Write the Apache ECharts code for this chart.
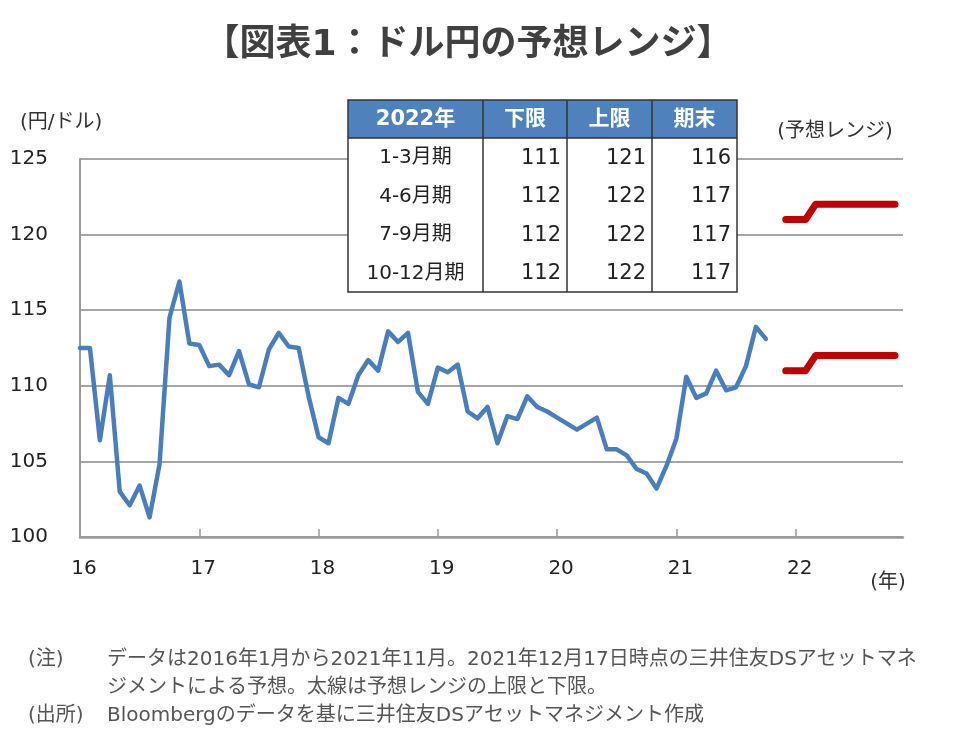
<!DOCTYPE html>
<html><head><meta charset="utf-8">
<script src="https://cdn.jsdelivr.net/npm/echarts@6/dist/echarts.min.js"></script>
<style>html,body{margin:0;padding:0;background:#fff}#c{width:975px;height:740px}</style>
</head><body><div id="c"></div>
<script>
// Monthly USD/JPY series, first point plotted at the "16" tick, one point per month
const firstX = 16;
const usdjpy = [
  112.5, 112.5, 106.4, 110.7, 103.0, 102.1, 103.4, 101.3, 104.8, 114.5, 116.9,
  112.8, 112.7, 111.3, 111.4, 110.7, 112.3, 110.1, 109.9, 112.4, 113.5, 112.6, 112.5,
  109.3, 106.6, 106.2, 109.2, 108.8, 110.7, 111.7, 111.0, 113.6, 112.9, 113.5, 109.6,
  108.8, 111.2, 110.9, 111.4, 108.3, 107.85, 108.6, 106.2, 108.0, 107.8, 109.3, 108.6,
  108.3, 107.9, 107.5, 107.1, 107.5, 107.9, 105.8, 105.8, 105.4, 104.5, 104.2, 103.2,
  104.7, 106.5, 110.6, 109.2, 109.5, 111.0, 109.7, 109.9, 111.3, 113.9, 113.1
];
const xTicks = [16, 17, 18, 19, 20, 21, 22];
const xLabels = ['16', '17', '18', '19', '20', '21', '22'];
const yMin = 100, yMax = 125, yStep = 5;

// 2022 forecast table
const tableHead = ['2022年', '下限', '上限', '期末'];
const quarters = ['1-3月期', '4-6月期', '7-9月期', '10-12月期'];
const qLower = [111, 112, 112, 112];
const qUpper = [121, 122, 122, 122];
const qEnd = [116, 117, 117, 117];
// forecast months in 2022 (plotted on the same monthly grid as the series)
const fcMonthIdx = [71, 72, 73, 74, 75, 76, 77, 78, 79, 80, 81, 82];
const fcQuarter = [0, 0, 0, 1, 1, 1, 2, 2, 2, 3, 3, 3];

const lineData = usdjpy.map((v, i) => [firstX + i / 12, v]);
const lowerData = fcMonthIdx.map((m, k) => [firstX + m / 12, qLower[fcQuarter[k]]]);
const upperData = fcMonthIdx.map((m, k) => [firstX + m / 12, qUpper[fcQuarter[k]]]);

const FONT = '"DejaVu Sans", "Noto Sans CJK JP", sans-serif';
const chart = echarts.init(document.getElementById('c'), null, {renderer: 'canvas'});

// table geometry
const tX = [348, 483, 567, 652, 737];
const tTop = 100, hdrH = 38, rowH = 38.5;
const tBottom = tTop + hdrH + rowH * 4;
const gfx = [];
gfx.push({type: 'rect', z: 100, shape: {x: tX[0], y: tTop, width: tX[4] - tX[0], height: tBottom - tTop}, style: {fill: '#fff', stroke: null}});
gfx.push({type: 'rect', z: 101, shape: {x: tX[0], y: tTop, width: tX[4] - tX[0], height: hdrH}, style: {fill: '#4f81bd', stroke: null}});
for (let i = 1; i < 4; i++) {
  gfx.push({type: 'line', z: 102, shape: {x1: tX[i], y1: tTop, x2: tX[i], y2: tBottom}, style: {stroke: '#333', lineWidth: 1.5}});
}
gfx.push({type: 'line', z: 102, shape: {x1: tX[0], y1: tTop + hdrH, x2: tX[4], y2: tTop + hdrH}, style: {stroke: '#333', lineWidth: 1.5}});
gfx.push({type: 'rect', z: 103, shape: {x: tX[0], y: tTop, width: tX[4] - tX[0], height: tBottom - tTop}, style: {fill: null, stroke: '#333', lineWidth: 1.5}});
tableHead.forEach((h, i) => {
  gfx.push({type: 'text', z: 104, x: (tX[i] + tX[i + 1]) / 2, y: tTop + hdrH / 2 + 1,
    style: {text: h, fill: '#fff', font: 'bold 21px ' + FONT, align: 'center', verticalAlign: 'middle'}});
});
quarters.forEach((q, r) => {
  const cy = tTop + hdrH + rowH * r + rowH / 2 + 1;
  gfx.push({type: 'text', z: 104, x: (tX[0] + tX[1]) / 2, y: cy,
    style: {text: q, fill: '#222', font: '20px ' + FONT, align: 'center', verticalAlign: 'middle'}});
  [qLower[r], qUpper[r], qEnd[r]].forEach((v, c) => {
    gfx.push({type: 'text', z: 104, x: tX[c + 2] - 6, y: cy,
      style: {text: String(v), fill: '#222', font: '21px ' + FONT, align: 'right', verticalAlign: 'middle'}});
  });
});
// other texts
gfx.push({type: 'text', z: 104, x: 468, y: 46, style: {text: '【図表1：ドル円の予想レンジ】', fill: '#404040', font: 'bold 36px ' + FONT, align: 'center', verticalAlign: 'middle'}});
gfx.push({type: 'text', z: 104, x: 20, y: 123, style: {text: '(円/ドル)', fill: '#333', font: '20px ' + FONT, align: 'left', verticalAlign: 'middle'}});
gfx.push({type: 'text', z: 104, x: 835, y: 132, style: {text: '(予想レンジ)', fill: '#333', font: '20px ' + FONT, align: 'center', verticalAlign: 'middle'}});
gfx.push({type: 'text', z: 104, x: 888, y: 583, style: {text: '(年)', fill: '#333', font: '20px ' + FONT, align: 'center', verticalAlign: 'middle'}});
const noteFont = '20px ' + FONT;
gfx.push({type: 'text', z: 104, x: 28, y: 660, style: {text: '(注)', fill: '#555', font: noteFont, align: 'left', verticalAlign: 'middle'}});
gfx.push({type: 'text', z: 104, x: 107, y: 660, style: {text: 'データは2016年1月から2021年11月。2021年12月17日時点の三井住友DSアセットマネ', fill: '#555', font: noteFont, align: 'left', verticalAlign: 'middle'}});
gfx.push({type: 'text', z: 104, x: 107, y: 688, style: {text: 'ジメントによる予想。太線は予想レンジの上限と下限。', fill: '#555', font: noteFont, align: 'left', verticalAlign: 'middle'}});
gfx.push({type: 'text', z: 104, x: 28, y: 716, style: {text: '(出所)', fill: '#555', font: noteFont, align: 'left', verticalAlign: 'middle'}});
gfx.push({type: 'text', z: 104, x: 107, y: 716, style: {text: 'Bloombergのデータを基に三井住友DSアセットマネジメント作成', fill: '#555', font: noteFont, align: 'left', verticalAlign: 'middle'}});

chart.setOption({
  animation: false,
  backgroundColor: '#fff',
  grid: {left: 80, top: 159, width: 823, height: 378, containLabel: false},
  xAxis: {
    type: 'value', min: 16, max: 22.9,
    axisLine: {show: true, lineStyle: {color: '#999', width: 2.5}},
    axisTick: {show: true, inside: true, length: 8, customValues: xTicks, lineStyle: {color: '#999', width: 1.5}},
    axisLabel: {customValues: xTicks, formatter: v => xLabels[xTicks.indexOf(v)] || '', color: '#222', fontSize: 20, fontFamily: FONT, margin: 22, padding: [0, 0, 0, 8]},
    splitLine: {show: false}
  },
  yAxis: {
    type: 'value', min: yMin, max: yMax, interval: yStep,
    axisLine: {show: true, lineStyle: {color: '#999', width: 2}},
    axisTick: {show: false},
    axisLabel: {color: '#222', fontSize: 20, fontFamily: FONT, margin: 32, padding: [0, 0, 6, 0]},
    splitLine: {show: true, lineStyle: {color: '#a6a6a6', width: 2}}
  },
  series: [
    {type: 'line', data: lineData, showSymbol: false, symbol: 'none', lineStyle: {color: '#4a7ebb', width: 4.5, cap: 'round', join: 'round'}, z: 5},
    {type: 'line', data: lowerData, showSymbol: false, symbol: 'none', lineStyle: {color: '#c00000', width: 7, cap: 'round', join: 'round'}, z: 6},
    {type: 'line', data: upperData, showSymbol: false, symbol: 'none', lineStyle: {color: '#c00000', width: 7, cap: 'round', join: 'round'}, z: 6}
  ],
  graphic: gfx
});
</script>
</body></html>
